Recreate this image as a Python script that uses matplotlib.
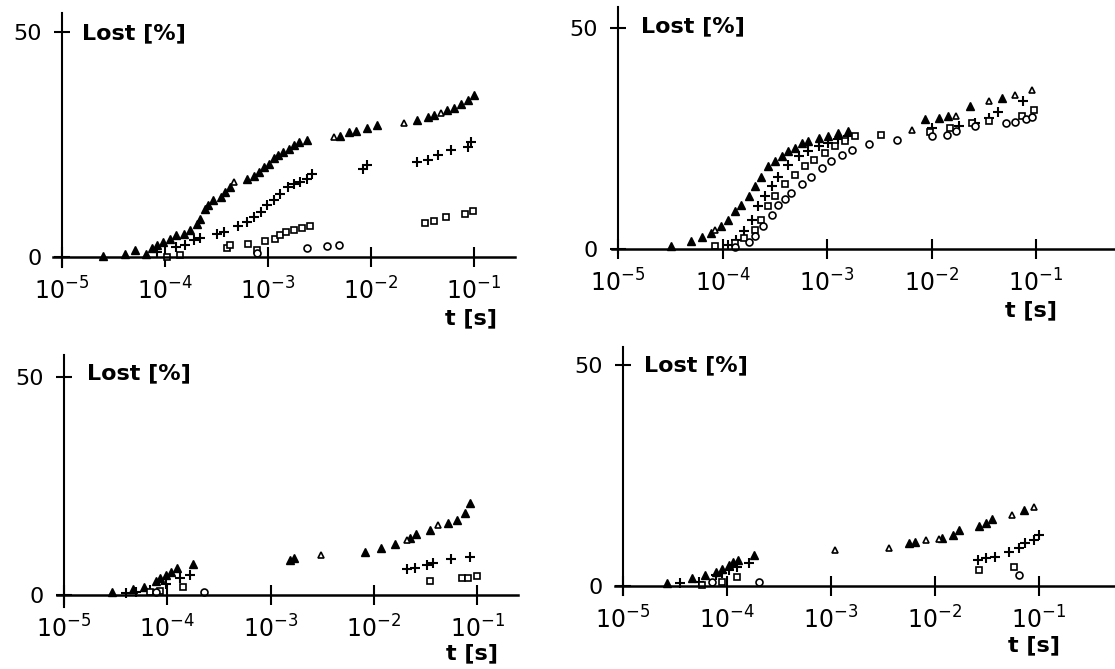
import numpy as np
import matplotlib
matplotlib.use('Agg')
import matplotlib.pyplot as plt
from matplotlib.ticker import FixedLocator, FixedFormatter, NullLocator

# ---- data: log10(t [s]) and lost [%] ----
# panel 1 (top left)
p1_tri_logt = [-4.6, -4.39, -4.29, -4.18, -4.13, -4.08, -4.02, -3.95, -3.89, -3.82, -3.76, -3.69, -3.66,
               -3.61, -3.58, -3.53, -3.46, -3.42, -3.37, -3.2, -3.14, -3.09, -3.04, -2.99, -2.94, -2.9,
               -2.85, -2.8, -2.75, -2.7, -2.62, -2.3, -2.21, -2.15, -2.04, -1.94, -1.55, -1.45, -1.39,
               -1.26, -1.19, -1.13, -1.06, -1.0]
p1_tri_lost = [0.15, 0.7, 1.6, 0.7, 1.9, 2.6, 3.3, 4.1, 4.8, 5.2, 5.9, 7.4, 8.5,
               10.7, 11.5, 12.6, 13.3, 14.4, 15.6, 17.4, 18.1, 18.9, 20.0, 20.7, 21.9, 22.6,
               23.3, 24.1, 24.8, 25.6, 25.9, 27.0, 27.8, 28.1, 28.7, 29.3, 30.4, 31.1, 31.5,
               32.6, 33.2, 34.1, 34.8, 35.9]
p1_tri_open_logt = [-3.33, -2.36, -1.68, -1.32]
p1_tri_open_lost = [16.7, 26.7, 29.8, 32.0]
p1_plus_logt = [-4.08, -3.89, -3.81, -3.72, -3.66, -3.5, -3.43, -3.29, -3.2, -3.14, -3.07, -3.01, -2.94,
                -2.88, -2.81, -2.75, -2.69, -2.62, -2.57, -2.08, -2.04, -1.55, -1.45, -1.35, -1.22,
                -1.06, -1.03]
p1_plus_lost = [1.1, 2.2, 2.6, 3.7, 4.3, 5.2, 5.6, 7.0, 7.8, 8.9, 10.0, 11.5, 12.6,
                14.1, 15.6, 16.3, 16.7, 17.4, 18.5, 19.6, 20.4, 21.1, 21.6, 22.6, 23.7,
                24.4, 25.6]
p1_sq_logt = [-3.98, -3.85, -3.4, -3.37, -3.19, -3.11, -3.03, -2.93, -2.88, -2.83, -2.75, -2.67, -2.59,
              -1.48, -1.39, -1.27, -1.09, -1.01]
p1_sq_lost = [0.0, 0.4, 1.9, 2.7, 3.0, 1.6, 3.6, 3.9, 4.8, 5.6, 6.1, 6.4, 6.8,
              7.6, 8.1, 8.9, 9.6, 10.2]
p1_circ_logt = [-3.11, -2.62, -2.43, -2.31]
p1_circ_lost = [1.0, 1.9, 2.4, 2.7]

# panel 2 (top right)
p2_tri_logt = [-4.49, -4.3, -4.2, -4.11, -4.01, -3.95, -3.88, -3.82, -3.75, -3.69, -3.63, -3.56, -3.5,
               -3.43, -3.37, -3.31, -3.24, -3.18, -3.08, -2.99, -2.89, -2.8, -2.06, -1.93, -1.84,
               -1.63, -1.33]
p2_tri_lost = [0.6, 1.7, 2.7, 3.6, 5.1, 6.6, 8.5, 10.0, 11.9, 14.2, 16.4, 18.7, 19.8,
               21.0, 22.1, 22.9, 24.0, 24.4, 25.1, 25.5, 26.2, 26.8, 29.3, 29.6, 30.0,
               32.3, 34.2]
p2_tri_open_logt = [-4.07, -2.19, -1.77, -1.45, -1.2, -1.04]
p2_tri_open_lost = [4.4, 27.0, 30.2, 33.4, 34.9, 36.0]
p2_plus_logt = [-3.95, -3.87, -3.79, -3.72, -3.66, -3.59, -3.53, -3.47, -3.37, -3.27, -3.18, -3.08,
                -2.99, -2.89, -2.8, -2.0, -1.74, -1.58, -1.45, -1.36, -1.12]
p2_plus_lost = [1.0, 2.1, 4.0, 6.6, 9.7, 11.9, 14.2, 16.4, 19.1, 21.0, 22.1, 23.2,
                24.0, 24.9, 25.6, 27.4, 27.8, 28.5, 29.6, 31.1, 33.4]
p2_sq_logt = [-4.07, -3.88, -3.79, -3.69, -3.63, -3.56, -3.5, -3.4, -3.31, -3.21, -3.12, -3.02, -2.92,
              -2.83, -2.73, -2.48, -2.01, -1.82, -1.61, -1.45, -1.13, -1.02]
p2_sq_lost = [0.6, 1.4, 2.5, 4.4, 6.6, 9.7, 11.9, 14.6, 16.8, 18.7, 20.2, 21.7, 23.2,
              24.4, 25.5, 25.9, 26.4, 27.4, 28.4, 28.9, 30.2, 31.5]
p2_circ_logt = [-3.88, -3.75, -3.69, -3.61, -3.53, -3.47, -3.4, -3.34, -3.24, -3.15, -3.05, -2.96,
                -2.86, -2.76, -2.6, -2.33, -2.0, -1.85, -1.77, -1.58, -1.29, -1.2, -1.1, -1.04]
p2_circ_lost = [0.5, 1.5, 2.9, 5.1, 7.8, 10.0, 11.2, 12.7, 14.6, 16.4, 18.3, 19.8,
                21.3, 22.5, 23.8, 24.7, 25.5, 25.9, 26.6, 27.9, 28.4, 28.7, 29.3, 29.9]

# panel 3 (bottom left)
p3_tri_logt = [-4.54, -4.33, -4.23, -4.11, -4.07, -4.01, -3.96, -3.91, -3.75, -2.81, -2.77, -2.09,
               -1.93, -1.8, -1.65, -1.59, -1.46, -1.28, -1.2, -1.12, -1.07]
p3_tri_lost = [0.8, 1.3, 1.8, 3.3, 3.8, 4.6, 5.3, 6.1, 7.1, 8.0, 8.5, 9.9,
               10.7, 11.8, 13.0, 14.0, 14.9, 16.4, 17.2, 18.7, 21.0]
p3_tri_open_logt = [-2.51, -1.68, -1.38]
p3_tri_open_lost = [9.2, 12.6, 16.0]
p3_plus_logt = [-4.4, -4.3, -4.17, -4.01, -3.88, -3.78, -1.68, -1.6, -1.49, -1.43, -1.25, -1.07]
p3_plus_lost = [0.4, 0.8, 1.1, 2.5, 3.8, 4.6, 5.9, 6.3, 6.9, 7.3, 8.2, 8.8]
p3_sq_logt = [-4.17, -4.07, -3.85, -1.46, -1.15, -1.09, -1.0]
p3_sq_lost = [0.6, 1.0, 1.9, 3.1, 3.8, 4.0, 4.4]
p3_circ_logt = [-4.11, -3.64]
p3_circ_lost = [0.8, 0.8]

# panel 4 (bottom right)
p4_tri_logt = [-4.58, -4.34, -4.21, -4.11, -4.05, -3.98, -3.94, -3.89, -3.74, -2.25, -2.19, -1.93,
               -1.83, -1.77, -1.58, -1.51, -1.45, -1.14]
p4_tri_lost = [0.6, 1.7, 2.5, 3.2, 3.8, 4.8, 5.5, 5.9, 7.0, 9.7, 10.0, 10.8,
               11.5, 12.7, 13.6, 14.3, 15.2, 17.2]
p4_tri_open_logt = [-2.96, -2.44, -2.09, -1.96, -1.26, -1.05]
p4_tri_open_lost = [8.1, 8.5, 10.4, 10.6, 16.1, 17.9]
p4_plus_logt = [-4.45, -4.27, -4.11, -4.05, -3.98, -3.9, -3.79, -1.59, -1.51, -1.42, -1.29, -1.19,
                -1.13, -1.05, -1.0]
p4_plus_lost = [0.6, 1.0, 2.5, 3.0, 3.6, 4.4, 5.1, 5.9, 6.3, 6.6, 7.8, 8.5,
                9.7, 10.4, 11.5]
p4_sq_logt = [-4.24, -4.05, -3.9, -1.58, -1.24]
p4_sq_lost = [0.2, 1.0, 2.1, 3.6, 4.2]
p4_circ_logt = [-4.14, -3.69, -1.19]
p4_circ_lost = [0.8, 0.8, 2.5]

x_ticks = [1e-5, 1e-4, 1e-3, 1e-2, 1e-1]
x_tick_labels = [r'$10^{-5}$', r'$10^{-4}$', r'$10^{-3}$', r'$10^{-2}$', r'$10^{-1}$']
y_ticks = [0, 50]
y_tick_labels = ['0', '50']

# ---- layout, in pixels of the 1115x669 picture ----
W, H = 1115, 669
# x0: pixel of 1e-5, dx: pixels per decade, y0/y50: pixels of 0 and 50,
# xl/xr: ends of the x axis line, yt/yb: ends of the y axis line,
# lost/t: positions of the axis titles
panels = [
    dict(x0=62, dx=103, y0=257, y50=32, xl=53, xr=515, yt=13, yb=267,
         lost=(82, 33), t=(497, 318),
         data=[(p1_tri_logt, p1_tri_lost, '^', True), (p1_tri_open_logt, p1_tri_open_lost, '^', False),
               (p1_plus_logt, p1_plus_lost, '+', True), (p1_sq_logt, p1_sq_lost, 's', False),
               (p1_circ_logt, p1_circ_lost, 'o', False)]),
    dict(x0=618, dx=104.5, y0=249, y50=28, xl=612, xr=1115, yt=7, yb=253,
         lost=(641, 26), t=(1057, 310),
         data=[(p2_tri_logt, p2_tri_lost, '^', True), (p2_tri_open_logt, p2_tri_open_lost, '^', False),
               (p2_plus_logt, p2_plus_lost, '+', True), (p2_sq_logt, p2_sq_lost, 's', False),
               (p2_circ_logt, p2_circ_lost, 'o', False)]),
    dict(x0=64, dx=103.3, y0=595, y50=377, xl=57, xr=518, yt=355, yb=607,
         lost=(87, 373), t=(498, 653),
         data=[(p3_tri_logt, p3_tri_lost, '^', True), (p3_tri_open_logt, p3_tri_open_lost, '^', False),
               (p3_plus_logt, p3_plus_lost, '+', True), (p3_sq_logt, p3_sq_lost, 's', False),
               (p3_circ_logt, p3_circ_lost, 'o', False)]),
    dict(x0=623, dx=104, y0=586, y50=365, xl=615, xr=1115, yt=347, yb=595,
         lost=(644, 365), t=(1060, 645),
         data=[(p4_tri_logt, p4_tri_lost, '^', True), (p4_tri_open_logt, p4_tri_open_lost, '^', False),
               (p4_plus_logt, p4_plus_lost, '+', True), (p4_sq_logt, p4_sq_lost, 's', False),
               (p4_circ_logt, p4_circ_lost, 'o', False)]),
]

fig = plt.figure(figsize=(W / 100, H / 100), dpi=100)

for p in panels:
    ax = fig.add_axes([p['xl'] / W, 1 - p['yb'] / H, (p['xr'] - p['xl']) / W, (p['yb'] - p['yt']) / H])
    ax.set_xscale('log')
    ax.set_xlim(10 ** (-5 + (p['xl'] - p['x0']) / p['dx']), 10 ** (-5 + (p['xr'] - p['x0']) / p['dx']))
    s = (p['y0'] - p['y50']) / 50
    ax.set_ylim(-(p['yb'] - p['y0']) / s, (p['y0'] - p['yt']) / s)

    for logt, lost, mk, filled in p['data']:
        t = 10 ** np.array(logt)
        if mk == '+':
            ax.plot(t, lost, ls='none', marker='+', ms=7, mew=1.5, color='black', clip_on=False)
        elif filled:
            ax.plot(t, lost, ls='none', marker=mk, ms=6, mew=1.0, color='black', clip_on=False)
        else:
            ax.plot(t, lost, ls='none', marker=mk, ms=5, mew=1.2, mfc='white', mec='black', clip_on=False)

    for side in ['top', 'right']:
        ax.spines[side].set_visible(False)
    ax.spines['left'].set_position(('data', 1e-5))
    ax.spines['bottom'].set_position(('data', 0))
    ax.spines['left'].set_linewidth(1.5)
    ax.spines['bottom'].set_linewidth(1.8)
    ax.patch.set_visible(False)

    ax.xaxis.set_major_locator(FixedLocator(x_ticks))
    ax.xaxis.set_major_formatter(FixedFormatter(x_tick_labels))
    ax.xaxis.set_minor_locator(NullLocator())
    ax.yaxis.set_major_locator(FixedLocator(y_ticks))
    ax.yaxis.set_major_formatter(FixedFormatter(y_tick_labels))
    ax.tick_params(axis='x', direction='inout', length=15, width=1.5, pad=7, labelsize=17)
    ax.tick_params(axis='y', direction='inout', length=11, width=1.5, pad=9, labelsize=16)

    fig.text(p['lost'][0] / W, 1 - p['lost'][1] / H, 'Lost [%]', fontsize=16, fontweight='bold',
             ha='left', va='center')
    fig.text(p['t'][0] / W, 1 - p['t'][1] / H, 't [s]', fontsize=16, fontweight='bold',
             ha='right', va='center')

fig.savefig('out.png', dpi=100)
